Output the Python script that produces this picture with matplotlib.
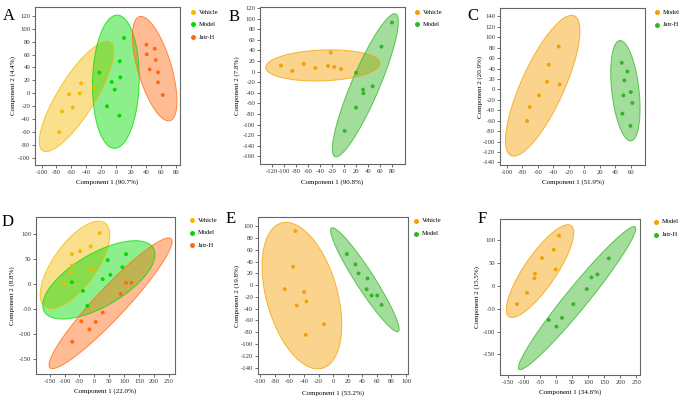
import numpy as np
import matplotlib
matplotlib.use("Agg")
import matplotlib.pyplot as plt
from matplotlib.patches import Polygon
from matplotlib.lines import Line2D

plt.rcParams['font.family'] = 'serif'
plt.rcParams['font.serif'] = ['Liberation Serif', 'DejaVu Serif']
plt.rcParams['axes.unicode_minus'] = False

# ---------------- data ----------------
# A
a_vehicle_x = [-47.2, -63.3, -49.0, -58.4, -72.6, -76.2, -29.8]
a_vehicle_y = [15.5, -1.5, 0.0, -22.0, -28.0, -60.0, 8.2]
a_model_x = [10.2, 4.5, -22.7, 5.3, -6.2, -2.2, -12.5, 4.0]
a_model_y = [85.6, 49.5, 32.0, 24.7, 17.5, 5.7, -20.0, -34.5]
a_jatr_x = [40.1, 51.2, 40.5, 52.6, 44.5, 55.7, 55.7, 61.9]
a_jatr_y = [75.3, 69.0, 60.3, 51.5, 37.0, 32.5, 17.0, -2.6]
# B
b_vehicle_x = [-105.6, -86.7, -67.8, -48.3, -27.2, -22.8, -16.7, -5.6]
b_vehicle_y = [11.3, 1.3, 14.5, 6.9, 10.7, 35.9, 8.8, 5.0]
b_model_x = [79.4, 61.7, 47.2, 31.1, 31.7, 19.4, 19.4, 0.6]
b_model_y = [92.6, 47.2, -27.7, -34.0, -40.9, -1.9, -68.0, -112.0]
# C
c_model_x = [-33.0, -45.9, -48.1, -31.8, -58.4, -70.4, -73.8]
c_model_y = [82.1, 47.1, 14.6, 9.5, -11.5, -33.7, -60.5]
c_jatr_x = [48.1, 55.4, 51.5, 59.7, 50.2, 61.8, 48.9, 59.2]
c_jatr_y = [50.9, 34.4, 17.2, -5.1, -11.5, -26.1, -46.5, -70.0]
# D
d_vehicle_x = [17.9, -12.3, -48.2, -75.1, -75.1, -79.6, -9.0, -103.0]
d_vehicle_y = [102.5, 75.7, 66.4, 60.3, 37.5, 24.1, 29.5, 1.3]
d_model_x = [106.5, 44.8, 94.2, 53.8, 28.0, -75.1, -38.1, -23.5]
d_model_y = [60.3, 48.3, 34.2, 18.8, 10.0, 4.0, -13.4, -43.6]
d_jatr_x = [106.5, 124.4, 88.6, 28.0, -43.7, 4.5, -16.8, -74.0]
d_jatr_y = [2.7, 2.7, -19.4, -57.0, -74.4, -75.7, -90.5, -115.3]
# E
e_vehicle_x = [-51.8, -55.0, -66.5, -39.9, -36.7, -50.0, -12.4, -37.6]
e_vehicle_y = [91.8, 31.2, -6.8, -11.9, -27.8, -34.6, -66.3, -84.5]
e_model_x = [18.8, 30.7, 34.9, 47.2, 45.9, 52.8, 60.6, 66.5]
e_model_y = [52.7, 35.1, 19.8, 11.3, -6.8, -17.6, -17.6, -33.4]
# F
f_model_x = [8.3, -8.3, -44.8, -2.1, -66.7, -68.8, -91.7, -122.9]
f_model_y = [109.6, 78.9, 60.7, 35.8, 26.3, 16.1, -15.4, -40.2]
f_jatr_x = [163.5, 128.1, 109.4, 94.8, 53.1, -24.0, 17.7, 0.0]
f_jatr_y = [59.9, 24.9, 18.3, -7.3, -40.2, -74.6, -70.2, -89.2]

# ellipses: two ends of the long axis (data units) and short/long ratio
a_ellipses = [(-98.4, -88.7, -8.0, 79.4, 0.29), (1.3, 121.0, -2.7, -85.0, 0.35), (30.7, 118.6, 71.7, -42.3, 0.31)]
b_ellipses = [(-131.0, 7.6, 59.4, 15.7, 0.27), (85.6, 109.0, -15.6, -160.6, 0.18)]
c_ellipses = [(-12.9, 141.0, -94.4, -127.0, 0.28), (45.5, 93.6, 60.0, -98.7, 0.27)]
d_ellipses = [(36.0, 122.7, -166.0, -44.9, 0.42), (-168.0, -55.0, 198.4, 72.4, 0.42), (257.8, 91.2, -149.0, -167.6, 0.17)]
e_ellipses = [(-71.1, 105.4, -14.7, -141.0, 0.47), (-2.3, 97.0, 89.4, -78.8, 0.15)]
f_ellipses = [(45.8, 131.6, -148.0, -67.3, 0.29), (245.8, 128.7, -116.7, -182.7, 0.12)]

gold = '#F5B800'
lime = '#00DC00'
red_orange = '#FF6A10'
orange = '#F5A000'
green = '#33B525'

W, H = 686, 401
fig = plt.figure(figsize=(W / 100, H / 100), dpi=100)


def ellipse_points(ax, x1, y1, x2, y2, ratio, n=240):
    # build the ellipse in screen space so it looks right, then back to data
    p1 = ax.transData.transform((x1, y1))
    p2 = ax.transData.transform((x2, y2))
    c = (p1 + p2) / 2
    u = (p2 - p1) / 2
    v = np.array([-u[1], u[0]]) * ratio
    t = np.linspace(0, 2 * np.pi, n)
    pts = c + np.outer(np.cos(t), u) + np.outer(np.sin(t), v)
    return ax.transData.inverted().transform(pts)


def panel(letter, box, xlim, ylim, xticks, yticks, xlab, ylab, groups, ellipses,
          letter_pos, xlab_y, ylab_x, legend_x, legend_y):
    left, top, right, bottom = box
    ax = fig.add_axes([left / W, 1 - bottom / H, (right - left) / W, (bottom - top) / H])
    ax.set_xlim(xlim)
    ax.set_ylim(ylim)
    ax.set_xticks(xticks)
    ax.set_yticks(yticks)
    ax.tick_params(labelsize=4.8, length=2, width=0.5, pad=1.5, colors='#333333')
    for s in ax.spines.values():
        s.set_color('#666666')
        s.set_linewidth(0.8)

    for (name, xs, ys, col), el in zip(groups, ellipses):
        pts = ellipse_points(ax, *el)
        ax.add_patch(Polygon(pts, closed=True, facecolor=col, alpha=0.45, edgecolor='none', zorder=1))
        ax.add_patch(Polygon(pts, closed=True, facecolor='none', edgecolor=col, alpha=0.75, lw=0.7, zorder=1.5))
    for name, xs, ys, col in groups:
        ax.scatter(xs, ys, s=8, color=col, edgecolors='none', zorder=3)

    ax.set_xlabel(xlab, fontsize=5, va='center')
    ax.set_ylabel(ylab, fontsize=5, va='center')
    ax.xaxis.set_label_coords(0.5, -(xlab_y - bottom) / (bottom - top))
    ax.yaxis.set_label_coords(-(left - ylab_x) / (right - left), 0.5)

    fig.text(letter_pos[0] / W, 1 - letter_pos[1] / H, letter, fontsize=12,
             ha='center', va='center')
    for (name, xs, ys, col), ly in zip(groups, legend_y):
        fig.add_artist(Line2D([legend_x / W], [1 - ly / H], marker='o', markersize=3.6,
                              color=col, markeredgecolor='none', linestyle='none',
                              transform=fig.transFigure))
        fig.text((legend_x + 6) / W, 1 - ly / H, name, fontsize=4.7, ha='left', va='center')
    return ax


panel('A', (35, 7, 180, 165), (-108.7, 85), (-110.8, 133.5),
      np.arange(-100, 81, 20), np.arange(-100, 121, 20),
      'Component 1 (90.7%)', 'Component 2 (4.4%)',
      [('Vehicle', a_vehicle_x, a_vehicle_y, gold), ('Model', a_model_x, a_model_y, lime),
       ('Jatr-H', a_jatr_x, a_jatr_y, red_orange)],
      a_ellipses, (8.5, 15.5), 181.7, 12.7, 193, [12, 24.3, 37.3])

panel('B', (260, 7, 405, 164), (-140.5, 101), (-174.5, 122),
      np.arange(-120, 81, 20), np.arange(-160, 121, 20),
      'Component 1 (90.8%)', 'Component 2 (7.8%)',
      [('Vehicle', b_vehicle_x, b_vehicle_y, orange), ('Model', b_model_x, b_model_y, green)],
      b_ellipses, (234, 17), 182.3, 236.7, 417, [12.3, 24.3])

panel('C', (500, 8, 645, 165), (-108.6, 78), (-145, 156),
      np.arange(-100, 61, 20), np.arange(-140, 141, 20),
      'Component 1 (51.9%)', 'Component 2 (20.9%)',
      [('Model', c_model_x, c_model_y, orange), ('Jatr-H', c_jatr_x, c_jatr_y, green)],
      c_ellipses, (473, 16), 182.3, 480, 657, [12, 24.5])

panel('D', (36, 217, 175, 374), (-196, 271), (-180, 134.7),
      np.arange(-150, 251, 50), np.arange(-150, 101, 50),
      'Component 1 (22.0%)', 'Component 2 (8.8%)',
      [('Vehicle', d_vehicle_x, d_vehicle_y, gold), ('Model', d_model_x, d_model_y, lime),
       ('Jatr-H', d_jatr_x, d_jatr_y, red_orange)],
      d_ellipses, (8, 222.5), 391, 12.3, 192, [220.3, 232.7, 245.3])

panel('E', (258, 217, 408, 374), (-103.2, 102.8), (-150.8, 115.6),
      np.arange(-100, 101, 20), np.arange(-140, 101, 20),
      'Component 1 (53.2%)', 'Component 2 (19.8%)',
      [('Vehicle', e_vehicle_x, e_vehicle_y, orange), ('Model', e_model_x, e_model_y, green)],
      e_ellipses, (230.5, 219), 393.3, 236.7, 416, [221, 233.7])

panel('F', (500, 219, 640, 375), (-176, 261), (-195, 146),
      np.arange(-150, 251, 50), np.arange(-150, 101, 50),
      'Component 1 (34.6%)', 'Component 2 (15.5%)',
      [('Model', f_model_x, f_model_y, orange), ('Jatr-H', f_jatr_x, f_jatr_y, green)],
      f_ellipses, (482, 219), 391.7, 476.7, 656, [221.7, 234.7])

fig.savefig('out.png', dpi=100)
